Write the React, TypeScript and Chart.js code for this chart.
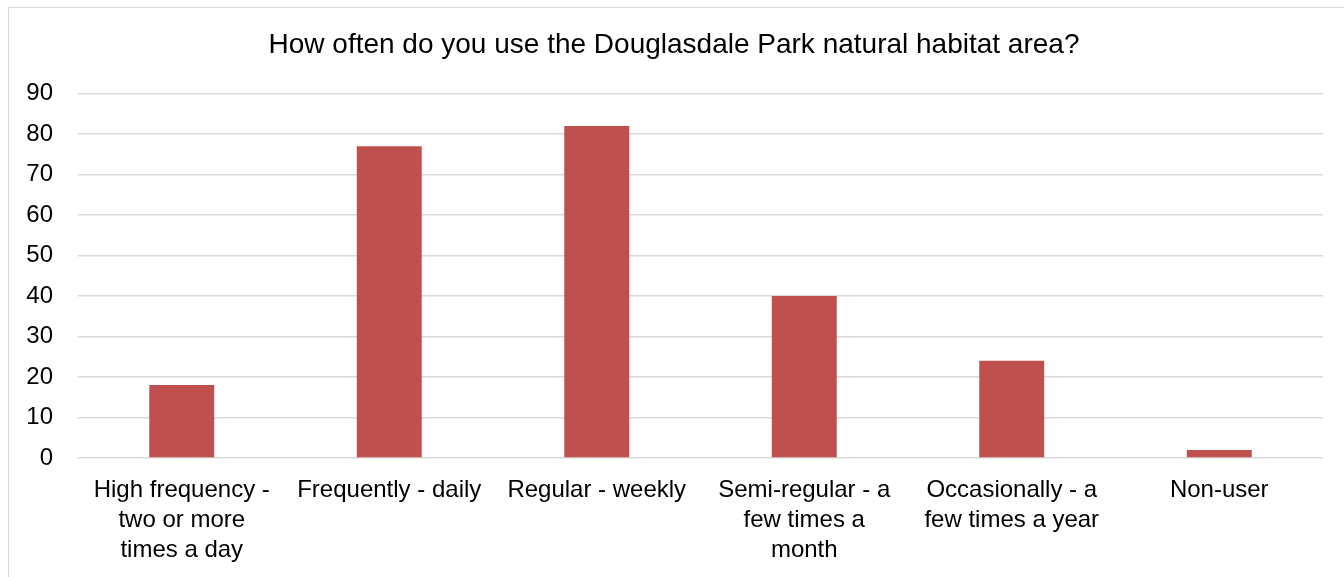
import React, { useEffect, useRef } from "react";
import { Chart, registerables } from "chart.js";

Chart.register(...registerables);

const categories: string[][] = [
  ["High frequency -", "two or more", "times a day"],
  ["Frequently - daily"],
  ["Regular - weekly"],
  ["Semi-regular - a", "few times a", "month"],
  ["Occasionally - a", "few times a year"],
  ["Non-user"],
];
const responses: number[] = [18, 77, 82, 40, 24, 2];
const titleText = "How often do you use the Douglasdale Park natural habitat area?";
const yMin = 0;
const yMax = 90;
const yStep = 10;

export default function App() {
  const ref = useRef<HTMLCanvasElement | null>(null);

  useEffect(() => {
    document.body.style.overflow = "hidden";
    const canvas = ref.current;
    if (!canvas) return;
    const font = "Arial, 'Liberation Sans', sans-serif";
    const chart = new Chart(canvas, {
      type: "bar",
      data: {
        labels: categories,
        datasets: [
          {
            data: responses,
            backgroundColor: "#C0504D",
            borderWidth: 0,
            barPercentage: 0.313,
            categoryPercentage: 1,
          },
        ],
      },
      options: {
        responsive: false,
        animation: false,
        devicePixelRatio: 1,
        layout: { padding: { left: 16, right: 28, top: 0, bottom: 13 } },
        plugins: {
          legend: { display: false },
          tooltip: { enabled: false },
          title: {
            display: true,
            text: titleText,
            color: "#000000",
            font: { family: font, size: 28, weight: "normal", lineHeight: 1.2 },
            padding: { top: 20, bottom: 32 },
          },
        },
        scales: {
          x: {
            grid: { display: false, drawTicks: false },
            border: { display: false },
            afterFit: (scale: any) => {
              scale.height = 107;
            },
            ticks: {
              color: "#000000",
              font: { family: font, size: 24, lineHeight: 1.25 },
              autoSkip: false,
              maxRotation: 0,
              minRotation: 0,
              padding: 17,
            },
          },
          y: {
            min: yMin,
            max: yMax,
            grid: { color: "#d9d9d9", lineWidth: 1.5, drawTicks: false },
            border: { display: false },
            afterFit: (scale: any) => {
              scale.width = 53;
            },
            ticks: {
              stepSize: yStep,
              color: "#000000",
              font: { family: font, size: 24, lineHeight: 1.2 },
              padding: 25,
            },
          },
        },
      },
    });
    return () => chart.destroy();
  }, []);

  return (
    <div
      style={{
        position: "absolute",
        left: 8,
        top: 7,
        width: 1400,
        height: 600,
        border: "1px solid #d9d9d9",
        background: "#ffffff",
      }}
    >
      <canvas ref={ref} width={1342} height={570} style={{ display: "block", width: 1342, height: 570 }} />
    </div>
  );
}
